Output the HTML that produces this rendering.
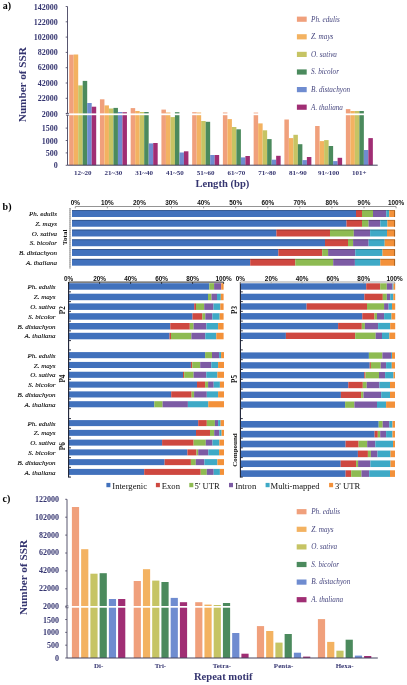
<!DOCTYPE html><html><head><meta charset="utf-8"><style>html,body{margin:0;padding:0;background:#fff;}svg{display:block;filter:blur(0.3px);}</style></head><body>
<svg width="407" height="685" viewBox="0 0 407 685">
<rect width="407" height="685" fill="#fff"/>
<text x="2.80" y="9.30" font-family="'Liberation Serif', serif" font-size="10" fill="#000" text-anchor="start" font-weight="bold" font-style="normal">a)</text>
<text x="2.60" y="210.20" font-family="'Liberation Serif', serif" font-size="10" fill="#000" text-anchor="start" font-weight="bold" font-style="normal">b)</text>
<text x="2.60" y="502.30" font-family="'Liberation Serif', serif" font-size="10" fill="#000" text-anchor="start" font-weight="bold" font-style="normal">c)</text>
<rect x="69.20" y="54.70" width="4.50" height="110.50" fill="#F0A07C"/>
<rect x="73.70" y="54.50" width="4.50" height="110.70" fill="#F3B261"/>
<rect x="78.20" y="85.40" width="4.50" height="79.80" fill="#C6C464"/>
<rect x="82.70" y="80.90" width="4.50" height="84.30" fill="#4B8A5D"/>
<rect x="87.20" y="103.00" width="4.50" height="62.20" fill="#6F8CD0"/>
<rect x="91.70" y="106.70" width="4.50" height="58.50" fill="#A02E74"/>
<rect x="99.94" y="99.30" width="4.50" height="65.90" fill="#F0A07C"/>
<rect x="104.44" y="105.40" width="4.50" height="59.80" fill="#F3B261"/>
<rect x="108.94" y="108.50" width="4.50" height="56.70" fill="#C6C464"/>
<rect x="113.44" y="107.90" width="4.50" height="57.30" fill="#4B8A5D"/>
<rect x="117.94" y="112.00" width="4.50" height="53.20" fill="#6F8CD0"/>
<rect x="122.44" y="112.20" width="4.50" height="53.00" fill="#A02E74"/>
<rect x="130.68" y="108.10" width="4.50" height="57.10" fill="#F0A07C"/>
<rect x="135.18" y="111.00" width="4.50" height="54.20" fill="#F3B261"/>
<rect x="139.68" y="112.00" width="4.50" height="53.20" fill="#C6C464"/>
<rect x="144.18" y="112.00" width="4.50" height="53.20" fill="#4B8A5D"/>
<rect x="148.68" y="143.40" width="4.50" height="21.80" fill="#6F8CD0"/>
<rect x="153.18" y="143.00" width="4.50" height="22.20" fill="#A02E74"/>
<rect x="161.42" y="109.60" width="4.50" height="55.60" fill="#F0A07C"/>
<rect x="165.92" y="112.50" width="4.50" height="52.70" fill="#F3B261"/>
<rect x="170.42" y="117.10" width="4.50" height="48.10" fill="#C6C464"/>
<rect x="174.92" y="112.20" width="4.50" height="53.00" fill="#4B8A5D"/>
<rect x="179.42" y="152.50" width="4.50" height="12.70" fill="#6F8CD0"/>
<rect x="183.92" y="151.30" width="4.50" height="13.90" fill="#A02E74"/>
<rect x="192.16" y="112.20" width="4.50" height="53.00" fill="#F0A07C"/>
<rect x="196.66" y="112.50" width="4.50" height="52.70" fill="#F3B261"/>
<rect x="201.16" y="121.00" width="4.50" height="44.20" fill="#C6C464"/>
<rect x="205.66" y="121.80" width="4.50" height="43.40" fill="#4B8A5D"/>
<rect x="210.16" y="155.00" width="4.50" height="10.20" fill="#6F8CD0"/>
<rect x="214.66" y="155.00" width="4.50" height="10.20" fill="#A02E74"/>
<rect x="222.90" y="112.50" width="4.50" height="52.70" fill="#F0A07C"/>
<rect x="227.40" y="119.10" width="4.50" height="46.10" fill="#F3B261"/>
<rect x="231.90" y="127.00" width="4.50" height="38.20" fill="#C6C464"/>
<rect x="236.40" y="129.30" width="4.50" height="35.90" fill="#4B8A5D"/>
<rect x="240.90" y="157.40" width="4.50" height="7.80" fill="#6F8CD0"/>
<rect x="245.40" y="156.00" width="4.50" height="9.20" fill="#A02E74"/>
<rect x="253.64" y="112.60" width="4.50" height="52.60" fill="#F0A07C"/>
<rect x="258.14" y="123.40" width="4.50" height="41.80" fill="#F3B261"/>
<rect x="262.64" y="130.30" width="4.50" height="34.90" fill="#C6C464"/>
<rect x="267.14" y="139.10" width="4.50" height="26.10" fill="#4B8A5D"/>
<rect x="271.64" y="159.70" width="4.50" height="5.50" fill="#6F8CD0"/>
<rect x="276.14" y="155.80" width="4.50" height="9.40" fill="#A02E74"/>
<rect x="284.38" y="119.50" width="4.50" height="45.70" fill="#F0A07C"/>
<rect x="288.88" y="138.10" width="4.50" height="27.10" fill="#F3B261"/>
<rect x="293.38" y="134.80" width="4.50" height="30.40" fill="#C6C464"/>
<rect x="297.88" y="144.20" width="4.50" height="21.00" fill="#4B8A5D"/>
<rect x="302.38" y="160.10" width="4.50" height="5.10" fill="#6F8CD0"/>
<rect x="306.88" y="157.00" width="4.50" height="8.20" fill="#A02E74"/>
<rect x="315.12" y="126.00" width="4.50" height="39.20" fill="#F0A07C"/>
<rect x="319.62" y="141.10" width="4.50" height="24.10" fill="#F3B261"/>
<rect x="324.12" y="140.10" width="4.50" height="25.10" fill="#C6C464"/>
<rect x="328.62" y="146.00" width="4.50" height="19.20" fill="#4B8A5D"/>
<rect x="333.12" y="161.10" width="4.50" height="4.10" fill="#6F8CD0"/>
<rect x="337.62" y="157.80" width="4.50" height="7.40" fill="#A02E74"/>
<rect x="345.86" y="109.10" width="4.50" height="56.10" fill="#F0A07C"/>
<rect x="350.36" y="111.00" width="4.50" height="54.20" fill="#F3B261"/>
<rect x="354.86" y="111.00" width="4.50" height="54.20" fill="#C6C464"/>
<rect x="359.36" y="111.00" width="4.50" height="54.20" fill="#4B8A5D"/>
<rect x="363.86" y="150.00" width="4.50" height="15.20" fill="#6F8CD0"/>
<rect x="368.36" y="138.10" width="4.50" height="27.10" fill="#A02E74"/>
<rect x="68.00" y="113.40" width="310.20" height="1.80" fill="#fff"/>
<line x1="67.50" y1="6.50" x2="67.50" y2="113.40" stroke="#45435f" stroke-width="0.9"/>
<line x1="67.50" y1="115.20" x2="67.50" y2="165.20" stroke="#45435f" stroke-width="0.9"/>
<line x1="66.00" y1="113.40" x2="69.00" y2="113.40" stroke="#45435f" stroke-width="0.8"/>
<line x1="66.00" y1="115.20" x2="69.00" y2="115.20" stroke="#45435f" stroke-width="0.8"/>
<line x1="67.50" y1="165.20" x2="377.70" y2="165.20" stroke="#45435f" stroke-width="1"/>
<line x1="65.70" y1="6.50" x2="67.50" y2="6.50" stroke="#45435f" stroke-width="0.8"/>
<line x1="65.70" y1="21.80" x2="67.50" y2="21.80" stroke="#45435f" stroke-width="0.8"/>
<line x1="65.70" y1="37.10" x2="67.50" y2="37.10" stroke="#45435f" stroke-width="0.8"/>
<line x1="65.70" y1="52.40" x2="67.50" y2="52.40" stroke="#45435f" stroke-width="0.8"/>
<line x1="65.70" y1="67.70" x2="67.50" y2="67.70" stroke="#45435f" stroke-width="0.8"/>
<line x1="65.70" y1="83.00" x2="67.50" y2="83.00" stroke="#45435f" stroke-width="0.8"/>
<line x1="65.70" y1="98.30" x2="67.50" y2="98.30" stroke="#45435f" stroke-width="0.8"/>
<line x1="65.70" y1="113.60" x2="67.50" y2="113.60" stroke="#45435f" stroke-width="0.8"/>
<line x1="65.70" y1="165.30" x2="67.50" y2="165.30" stroke="#45435f" stroke-width="0.8"/>
<line x1="65.70" y1="152.90" x2="67.50" y2="152.90" stroke="#45435f" stroke-width="0.8"/>
<line x1="65.70" y1="140.50" x2="67.50" y2="140.50" stroke="#45435f" stroke-width="0.8"/>
<line x1="65.70" y1="128.10" x2="67.50" y2="128.10" stroke="#45435f" stroke-width="0.8"/>
<text x="57.80" y="10.14" font-family="'Liberation Serif', serif" font-size="8.0" fill="#353570" text-anchor="end" font-weight="bold" font-style="normal">142000</text>
<text x="57.80" y="24.64" font-family="'Liberation Serif', serif" font-size="8.0" fill="#353570" text-anchor="end" font-weight="bold" font-style="normal">122000</text>
<text x="57.80" y="39.94" font-family="'Liberation Serif', serif" font-size="8.0" fill="#353570" text-anchor="end" font-weight="bold" font-style="normal">102000</text>
<text x="57.80" y="55.14" font-family="'Liberation Serif', serif" font-size="8.0" fill="#353570" text-anchor="end" font-weight="bold" font-style="normal">82000</text>
<text x="57.80" y="70.34" font-family="'Liberation Serif', serif" font-size="8.0" fill="#353570" text-anchor="end" font-weight="bold" font-style="normal">62000</text>
<text x="57.80" y="85.64" font-family="'Liberation Serif', serif" font-size="8.0" fill="#353570" text-anchor="end" font-weight="bold" font-style="normal">42000</text>
<text x="57.80" y="100.84" font-family="'Liberation Serif', serif" font-size="8.0" fill="#353570" text-anchor="end" font-weight="bold" font-style="normal">22000</text>
<text x="57.80" y="116.64" font-family="'Liberation Serif', serif" font-size="8.0" fill="#353570" text-anchor="end" font-weight="bold" font-style="normal">2000</text>
<text x="57.80" y="131.04" font-family="'Liberation Serif', serif" font-size="8.0" fill="#353570" text-anchor="end" font-weight="bold" font-style="normal">1500</text>
<text x="57.80" y="143.64" font-family="'Liberation Serif', serif" font-size="8.0" fill="#353570" text-anchor="end" font-weight="bold" font-style="normal">1000</text>
<text x="57.80" y="156.34" font-family="'Liberation Serif', serif" font-size="8.0" fill="#353570" text-anchor="end" font-weight="bold" font-style="normal">500</text>
<text x="57.80" y="168.44" font-family="'Liberation Serif', serif" font-size="8.0" fill="#353570" text-anchor="end" font-weight="bold" font-style="normal">0</text>
<text x="82.70" y="174.60" font-family="'Liberation Serif', serif" font-size="7.0" fill="#353570" text-anchor="middle" font-weight="bold" font-style="normal">12~20</text>
<text x="113.44" y="174.60" font-family="'Liberation Serif', serif" font-size="7.0" fill="#353570" text-anchor="middle" font-weight="bold" font-style="normal">21~30</text>
<text x="144.18" y="174.60" font-family="'Liberation Serif', serif" font-size="7.0" fill="#353570" text-anchor="middle" font-weight="bold" font-style="normal">31~40</text>
<text x="174.92" y="174.60" font-family="'Liberation Serif', serif" font-size="7.0" fill="#353570" text-anchor="middle" font-weight="bold" font-style="normal">41~50</text>
<text x="205.66" y="174.60" font-family="'Liberation Serif', serif" font-size="7.0" fill="#353570" text-anchor="middle" font-weight="bold" font-style="normal">51~60</text>
<text x="236.40" y="174.60" font-family="'Liberation Serif', serif" font-size="7.0" fill="#353570" text-anchor="middle" font-weight="bold" font-style="normal">61~70</text>
<text x="267.14" y="174.60" font-family="'Liberation Serif', serif" font-size="7.0" fill="#353570" text-anchor="middle" font-weight="bold" font-style="normal">71~80</text>
<text x="297.88" y="174.60" font-family="'Liberation Serif', serif" font-size="7.0" fill="#353570" text-anchor="middle" font-weight="bold" font-style="normal">81~90</text>
<text x="328.62" y="174.60" font-family="'Liberation Serif', serif" font-size="7.0" fill="#353570" text-anchor="middle" font-weight="bold" font-style="normal">91~100</text>
<text x="359.36" y="174.60" font-family="'Liberation Serif', serif" font-size="7.0" fill="#353570" text-anchor="middle" font-weight="bold" font-style="normal">101+</text>
<text x="222.40" y="187.00" font-family="'Liberation Serif', serif" font-size="10.6" fill="#353570" text-anchor="middle" font-weight="bold" font-style="normal">Length (bp)</text>
<text x="26.00" y="84.70" font-family="'Liberation Serif', serif" font-size="11.2" fill="#353570" text-anchor="middle" font-weight="bold" font-style="normal" transform="rotate(-90 26.00 84.70)">Number of SSR</text>
<rect x="296.90" y="16.60" width="9.80" height="5.20" fill="#F0A07C"/>
<text x="311.00" y="21.58" font-family="'Liberation Serif', serif" font-size="7.2" fill="#46467f" text-anchor="start" font-weight="normal" font-style="italic">Ph. edulis</text>
<rect x="296.90" y="34.20" width="9.80" height="5.20" fill="#F3B261"/>
<text x="311.00" y="39.18" font-family="'Liberation Serif', serif" font-size="7.2" fill="#46467f" text-anchor="start" font-weight="normal" font-style="italic">Z. mays</text>
<rect x="296.90" y="51.80" width="9.80" height="5.20" fill="#C6C464"/>
<text x="311.00" y="56.78" font-family="'Liberation Serif', serif" font-size="7.2" fill="#46467f" text-anchor="start" font-weight="normal" font-style="italic">O. sativa</text>
<rect x="296.90" y="69.40" width="9.80" height="5.20" fill="#4B8A5D"/>
<text x="311.00" y="74.38" font-family="'Liberation Serif', serif" font-size="7.2" fill="#46467f" text-anchor="start" font-weight="normal" font-style="italic">S. bicolor</text>
<rect x="296.90" y="87.00" width="9.80" height="5.20" fill="#6F8CD0"/>
<text x="311.00" y="91.98" font-family="'Liberation Serif', serif" font-size="7.2" fill="#46467f" text-anchor="start" font-weight="normal" font-style="italic">B. distachyon</text>
<rect x="296.90" y="104.60" width="9.80" height="5.20" fill="#A02E74"/>
<text x="311.00" y="109.58" font-family="'Liberation Serif', serif" font-size="7.2" fill="#46467f" text-anchor="start" font-weight="normal" font-style="italic">A. thaliana</text>
<rect x="71.90" y="507.00" width="7.20" height="151.00" fill="#F0A07C"/>
<rect x="81.14" y="549.20" width="7.20" height="108.80" fill="#F3B261"/>
<rect x="90.38" y="573.70" width="7.20" height="84.30" fill="#C6C464"/>
<rect x="99.62" y="573.20" width="7.20" height="84.80" fill="#4B8A5D"/>
<rect x="108.86" y="599.00" width="7.20" height="59.00" fill="#6F8CD0"/>
<rect x="118.10" y="599.00" width="7.20" height="59.00" fill="#A02E74"/>
<rect x="133.70" y="581.00" width="7.20" height="77.00" fill="#F0A07C"/>
<rect x="142.94" y="569.20" width="7.20" height="88.80" fill="#F3B261"/>
<rect x="152.18" y="580.60" width="7.20" height="77.40" fill="#C6C464"/>
<rect x="161.42" y="582.00" width="7.20" height="76.00" fill="#4B8A5D"/>
<rect x="170.66" y="597.90" width="7.20" height="60.10" fill="#6F8CD0"/>
<rect x="179.90" y="602.20" width="7.20" height="55.80" fill="#A02E74"/>
<rect x="195.20" y="602.20" width="7.20" height="55.80" fill="#F0A07C"/>
<rect x="204.44" y="604.60" width="7.20" height="53.40" fill="#F3B261"/>
<rect x="213.68" y="605.00" width="7.20" height="53.00" fill="#C6C464"/>
<rect x="222.92" y="603.00" width="7.20" height="55.00" fill="#4B8A5D"/>
<rect x="232.16" y="633.00" width="7.20" height="25.00" fill="#6F8CD0"/>
<rect x="241.40" y="653.70" width="7.20" height="4.30" fill="#A02E74"/>
<rect x="256.90" y="626.10" width="7.20" height="31.90" fill="#F0A07C"/>
<rect x="266.14" y="631.00" width="7.20" height="27.00" fill="#F3B261"/>
<rect x="275.38" y="642.60" width="7.20" height="15.40" fill="#C6C464"/>
<rect x="284.62" y="634.00" width="7.20" height="24.00" fill="#4B8A5D"/>
<rect x="293.86" y="652.70" width="7.20" height="5.30" fill="#6F8CD0"/>
<rect x="303.10" y="656.60" width="7.20" height="1.40" fill="#A02E74"/>
<rect x="317.90" y="619.10" width="7.20" height="38.90" fill="#F0A07C"/>
<rect x="327.14" y="641.90" width="7.20" height="16.10" fill="#F3B261"/>
<rect x="336.38" y="650.70" width="7.20" height="7.30" fill="#C6C464"/>
<rect x="345.62" y="639.70" width="7.20" height="18.30" fill="#4B8A5D"/>
<rect x="354.86" y="655.60" width="7.20" height="2.40" fill="#6F8CD0"/>
<rect x="364.10" y="656.00" width="7.20" height="2.00" fill="#A02E74"/>
<rect x="67.50" y="606.00" width="310.80" height="1.70" fill="#fff"/>
<line x1="67.00" y1="499.30" x2="67.00" y2="606.00" stroke="#45435f" stroke-width="0.9"/>
<line x1="67.00" y1="607.70" x2="67.00" y2="658.00" stroke="#45435f" stroke-width="0.9"/>
<line x1="65.50" y1="606.00" x2="68.50" y2="606.00" stroke="#45435f" stroke-width="0.8"/>
<line x1="65.50" y1="607.70" x2="68.50" y2="607.70" stroke="#45435f" stroke-width="0.8"/>
<line x1="67.00" y1="658.00" x2="377.80" y2="658.00" stroke="#45435f" stroke-width="1"/>
<line x1="65.20" y1="499.30" x2="67.00" y2="499.30" stroke="#45435f" stroke-width="0.8"/>
<line x1="65.20" y1="517.20" x2="67.00" y2="517.20" stroke="#45435f" stroke-width="0.8"/>
<line x1="65.20" y1="535.10" x2="67.00" y2="535.10" stroke="#45435f" stroke-width="0.8"/>
<line x1="65.20" y1="553.00" x2="67.00" y2="553.00" stroke="#45435f" stroke-width="0.8"/>
<line x1="65.20" y1="570.90" x2="67.00" y2="570.90" stroke="#45435f" stroke-width="0.8"/>
<line x1="65.20" y1="588.80" x2="67.00" y2="588.80" stroke="#45435f" stroke-width="0.8"/>
<line x1="65.20" y1="606.70" x2="67.00" y2="606.70" stroke="#45435f" stroke-width="0.8"/>
<line x1="65.20" y1="619.53" x2="67.00" y2="619.53" stroke="#45435f" stroke-width="0.8"/>
<line x1="65.20" y1="632.35" x2="67.00" y2="632.35" stroke="#45435f" stroke-width="0.8"/>
<line x1="65.20" y1="645.18" x2="67.00" y2="645.18" stroke="#45435f" stroke-width="0.8"/>
<line x1="65.20" y1="658.00" x2="67.00" y2="658.00" stroke="#45435f" stroke-width="0.8"/>
<text x="59.00" y="502.44" font-family="'Liberation Serif', serif" font-size="8.0" fill="#353570" text-anchor="end" font-weight="bold" font-style="normal">122000</text>
<text x="59.00" y="520.14" font-family="'Liberation Serif', serif" font-size="8.0" fill="#353570" text-anchor="end" font-weight="bold" font-style="normal">102000</text>
<text x="59.00" y="538.14" font-family="'Liberation Serif', serif" font-size="8.0" fill="#353570" text-anchor="end" font-weight="bold" font-style="normal">82000</text>
<text x="59.00" y="555.34" font-family="'Liberation Serif', serif" font-size="8.0" fill="#353570" text-anchor="end" font-weight="bold" font-style="normal">62000</text>
<text x="59.00" y="573.24" font-family="'Liberation Serif', serif" font-size="8.0" fill="#353570" text-anchor="end" font-weight="bold" font-style="normal">42000</text>
<text x="59.00" y="591.24" font-family="'Liberation Serif', serif" font-size="8.0" fill="#353570" text-anchor="end" font-weight="bold" font-style="normal">22000</text>
<text x="59.00" y="608.94" font-family="'Liberation Serif', serif" font-size="8.0" fill="#353570" text-anchor="end" font-weight="bold" font-style="normal">2000</text>
<text x="59.00" y="623.14" font-family="'Liberation Serif', serif" font-size="8.0" fill="#353570" text-anchor="end" font-weight="bold" font-style="normal">1500</text>
<text x="59.00" y="635.44" font-family="'Liberation Serif', serif" font-size="8.0" fill="#353570" text-anchor="end" font-weight="bold" font-style="normal">1000</text>
<text x="59.00" y="648.44" font-family="'Liberation Serif', serif" font-size="8.0" fill="#353570" text-anchor="end" font-weight="bold" font-style="normal">500</text>
<text x="59.00" y="661.24" font-family="'Liberation Serif', serif" font-size="8.0" fill="#353570" text-anchor="end" font-weight="bold" font-style="normal">0</text>
<text x="98.60" y="668.00" font-family="'Liberation Serif', serif" font-size="7.0" fill="#353570" text-anchor="middle" font-weight="bold" font-style="normal">Di-</text>
<text x="160.40" y="668.00" font-family="'Liberation Serif', serif" font-size="7.0" fill="#353570" text-anchor="middle" font-weight="bold" font-style="normal">Tri-</text>
<text x="221.90" y="668.00" font-family="'Liberation Serif', serif" font-size="7.0" fill="#353570" text-anchor="middle" font-weight="bold" font-style="normal">Tetra-</text>
<text x="283.60" y="668.00" font-family="'Liberation Serif', serif" font-size="7.0" fill="#353570" text-anchor="middle" font-weight="bold" font-style="normal">Penta-</text>
<text x="344.60" y="668.00" font-family="'Liberation Serif', serif" font-size="7.0" fill="#353570" text-anchor="middle" font-weight="bold" font-style="normal">Hexa-</text>
<text x="223.20" y="679.70" font-family="'Liberation Serif', serif" font-size="10.6" fill="#353570" text-anchor="middle" font-weight="bold" font-style="normal">Repeat motif</text>
<text x="27.40" y="577.50" font-family="'Liberation Serif', serif" font-size="11.2" fill="#353570" text-anchor="middle" font-weight="bold" font-style="normal" transform="rotate(-90 27.40 577.50)">Number of SSR</text>
<rect x="296.70" y="509.10" width="9.80" height="5.20" fill="#F0A07C"/>
<text x="311.20" y="514.08" font-family="'Liberation Serif', serif" font-size="7.2" fill="#46467f" text-anchor="start" font-weight="normal" font-style="italic">Ph. edulis</text>
<rect x="296.70" y="526.70" width="9.80" height="5.20" fill="#F3B261"/>
<text x="311.20" y="531.68" font-family="'Liberation Serif', serif" font-size="7.2" fill="#46467f" text-anchor="start" font-weight="normal" font-style="italic">Z. mays</text>
<rect x="296.70" y="544.30" width="9.80" height="5.20" fill="#C6C464"/>
<text x="311.20" y="549.28" font-family="'Liberation Serif', serif" font-size="7.2" fill="#46467f" text-anchor="start" font-weight="normal" font-style="italic">O. sativa</text>
<rect x="296.70" y="561.90" width="9.80" height="5.20" fill="#4B8A5D"/>
<text x="311.20" y="566.88" font-family="'Liberation Serif', serif" font-size="7.2" fill="#46467f" text-anchor="start" font-weight="normal" font-style="italic">S. bicolor</text>
<rect x="296.70" y="579.50" width="9.80" height="5.20" fill="#6F8CD0"/>
<text x="311.20" y="584.48" font-family="'Liberation Serif', serif" font-size="7.2" fill="#46467f" text-anchor="start" font-weight="normal" font-style="italic">B. distachyon</text>
<rect x="296.70" y="597.10" width="9.80" height="5.20" fill="#A02E74"/>
<text x="311.20" y="602.08" font-family="'Liberation Serif', serif" font-size="7.2" fill="#46467f" text-anchor="start" font-weight="normal" font-style="italic">A. thaliana</text>
<rect x="72.00" y="210.20" width="284.00" height="6.80" fill="#4171BC"/>
<rect x="72.00" y="210.20" width="284.00" height="0.80" fill="#2e5187"/>
<rect x="356.00" y="210.20" width="6.00" height="6.80" fill="#CE4840"/>
<rect x="356.00" y="210.20" width="6.00" height="0.80" fill="#94332e"/>
<rect x="362.00" y="210.20" width="11.00" height="6.80" fill="#8EBB52"/>
<rect x="362.00" y="210.20" width="11.00" height="0.80" fill="#66863b"/>
<rect x="373.00" y="210.20" width="13.30" height="6.80" fill="#7C5BA4"/>
<rect x="373.00" y="210.20" width="13.30" height="0.80" fill="#594176"/>
<rect x="386.30" y="210.20" width="2.90" height="6.80" fill="#3EA9C6"/>
<rect x="386.30" y="210.20" width="2.90" height="0.80" fill="#2c798e"/>
<rect x="389.20" y="210.20" width="5.80" height="6.80" fill="#F3913A"/>
<rect x="389.20" y="210.20" width="5.80" height="0.80" fill="#ae6829"/>
<rect x="394.10" y="210.60" width="1.00" height="6.40" fill="#A9611F"/>
<rect x="72.00" y="219.94" width="274.50" height="6.80" fill="#4171BC"/>
<rect x="72.00" y="219.94" width="274.50" height="0.80" fill="#2e5187"/>
<rect x="346.50" y="219.94" width="15.50" height="6.80" fill="#CE4840"/>
<rect x="346.50" y="219.94" width="15.50" height="0.80" fill="#94332e"/>
<rect x="362.00" y="219.94" width="6.60" height="6.80" fill="#8EBB52"/>
<rect x="362.00" y="219.94" width="6.60" height="0.80" fill="#66863b"/>
<rect x="368.60" y="219.94" width="11.70" height="6.80" fill="#7C5BA4"/>
<rect x="368.60" y="219.94" width="11.70" height="0.80" fill="#594176"/>
<rect x="380.30" y="219.94" width="7.10" height="6.80" fill="#3EA9C6"/>
<rect x="380.30" y="219.94" width="7.10" height="0.80" fill="#2c798e"/>
<rect x="387.40" y="219.94" width="7.60" height="6.80" fill="#F3913A"/>
<rect x="387.40" y="219.94" width="7.60" height="0.80" fill="#ae6829"/>
<rect x="394.10" y="220.34" width="1.00" height="6.40" fill="#A9611F"/>
<rect x="72.00" y="229.68" width="204.40" height="6.80" fill="#4171BC"/>
<rect x="72.00" y="229.68" width="204.40" height="0.80" fill="#2e5187"/>
<rect x="276.40" y="229.68" width="53.60" height="6.80" fill="#CE4840"/>
<rect x="276.40" y="229.68" width="53.60" height="0.80" fill="#94332e"/>
<rect x="330.00" y="229.68" width="23.80" height="6.80" fill="#8EBB52"/>
<rect x="330.00" y="229.68" width="23.80" height="0.80" fill="#66863b"/>
<rect x="353.80" y="229.68" width="16.30" height="6.80" fill="#7C5BA4"/>
<rect x="353.80" y="229.68" width="16.30" height="0.80" fill="#594176"/>
<rect x="370.10" y="229.68" width="16.90" height="6.80" fill="#3EA9C6"/>
<rect x="370.10" y="229.68" width="16.90" height="0.80" fill="#2c798e"/>
<rect x="387.00" y="229.68" width="8.00" height="6.80" fill="#F3913A"/>
<rect x="387.00" y="229.68" width="8.00" height="0.80" fill="#ae6829"/>
<rect x="394.10" y="230.08" width="1.00" height="6.40" fill="#A9611F"/>
<rect x="72.00" y="239.42" width="253.00" height="6.80" fill="#4171BC"/>
<rect x="72.00" y="239.42" width="253.00" height="0.80" fill="#2e5187"/>
<rect x="325.00" y="239.42" width="23.00" height="6.80" fill="#CE4840"/>
<rect x="325.00" y="239.42" width="23.00" height="0.80" fill="#94332e"/>
<rect x="348.00" y="239.42" width="5.10" height="6.80" fill="#8EBB52"/>
<rect x="348.00" y="239.42" width="5.10" height="0.80" fill="#66863b"/>
<rect x="353.10" y="239.42" width="15.50" height="6.80" fill="#7C5BA4"/>
<rect x="353.10" y="239.42" width="15.50" height="0.80" fill="#594176"/>
<rect x="368.60" y="239.42" width="16.10" height="6.80" fill="#3EA9C6"/>
<rect x="368.60" y="239.42" width="16.10" height="0.80" fill="#2c798e"/>
<rect x="384.70" y="239.42" width="10.30" height="6.80" fill="#F3913A"/>
<rect x="384.70" y="239.42" width="10.30" height="0.80" fill="#ae6829"/>
<rect x="394.10" y="239.82" width="1.00" height="6.40" fill="#A9611F"/>
<rect x="72.00" y="249.16" width="206.40" height="6.80" fill="#4171BC"/>
<rect x="72.00" y="249.16" width="206.40" height="0.80" fill="#2e5187"/>
<rect x="278.40" y="249.16" width="43.80" height="6.80" fill="#CE4840"/>
<rect x="278.40" y="249.16" width="43.80" height="0.80" fill="#94332e"/>
<rect x="322.20" y="249.16" width="5.90" height="6.80" fill="#8EBB52"/>
<rect x="322.20" y="249.16" width="5.90" height="0.80" fill="#66863b"/>
<rect x="328.10" y="249.16" width="27.20" height="6.80" fill="#7C5BA4"/>
<rect x="328.10" y="249.16" width="27.20" height="0.80" fill="#594176"/>
<rect x="355.30" y="249.16" width="27.20" height="6.80" fill="#3EA9C6"/>
<rect x="355.30" y="249.16" width="27.20" height="0.80" fill="#2c798e"/>
<rect x="382.50" y="249.16" width="12.50" height="6.80" fill="#F3913A"/>
<rect x="382.50" y="249.16" width="12.50" height="0.80" fill="#ae6829"/>
<rect x="394.10" y="249.56" width="1.00" height="6.40" fill="#A9611F"/>
<rect x="72.00" y="258.90" width="178.20" height="6.80" fill="#4171BC"/>
<rect x="72.00" y="258.90" width="178.20" height="0.80" fill="#2e5187"/>
<rect x="250.20" y="258.90" width="45.10" height="6.80" fill="#CE4840"/>
<rect x="250.20" y="258.90" width="45.10" height="0.80" fill="#94332e"/>
<rect x="295.30" y="258.90" width="37.90" height="6.80" fill="#8EBB52"/>
<rect x="295.30" y="258.90" width="37.90" height="0.80" fill="#66863b"/>
<rect x="333.20" y="258.90" width="21.70" height="6.80" fill="#7C5BA4"/>
<rect x="333.20" y="258.90" width="21.70" height="0.80" fill="#594176"/>
<rect x="354.90" y="258.90" width="25.40" height="6.80" fill="#3EA9C6"/>
<rect x="354.90" y="258.90" width="25.40" height="0.80" fill="#2c798e"/>
<rect x="380.30" y="258.90" width="14.70" height="6.80" fill="#F3913A"/>
<rect x="380.30" y="258.90" width="14.70" height="0.80" fill="#ae6829"/>
<rect x="394.10" y="259.30" width="1.00" height="6.40" fill="#A9611F"/>
<line x1="70.00" y1="208.00" x2="70.00" y2="268.20" stroke="#7a7a7a" stroke-width="0.9"/>
<line x1="69.20" y1="208.50" x2="70.80" y2="208.50" stroke="#9a9a9a" stroke-width="0.4"/>
<line x1="69.20" y1="210.50" x2="70.80" y2="210.50" stroke="#9a9a9a" stroke-width="0.4"/>
<line x1="69.20" y1="212.50" x2="70.80" y2="212.50" stroke="#9a9a9a" stroke-width="0.4"/>
<line x1="69.20" y1="214.50" x2="70.80" y2="214.50" stroke="#9a9a9a" stroke-width="0.4"/>
<line x1="69.20" y1="216.50" x2="70.80" y2="216.50" stroke="#9a9a9a" stroke-width="0.4"/>
<line x1="69.20" y1="218.50" x2="70.80" y2="218.50" stroke="#9a9a9a" stroke-width="0.4"/>
<line x1="69.20" y1="220.50" x2="70.80" y2="220.50" stroke="#9a9a9a" stroke-width="0.4"/>
<line x1="69.20" y1="222.50" x2="70.80" y2="222.50" stroke="#9a9a9a" stroke-width="0.4"/>
<line x1="69.20" y1="224.50" x2="70.80" y2="224.50" stroke="#9a9a9a" stroke-width="0.4"/>
<line x1="69.20" y1="226.50" x2="70.80" y2="226.50" stroke="#9a9a9a" stroke-width="0.4"/>
<line x1="69.20" y1="228.50" x2="70.80" y2="228.50" stroke="#9a9a9a" stroke-width="0.4"/>
<line x1="69.20" y1="230.50" x2="70.80" y2="230.50" stroke="#9a9a9a" stroke-width="0.4"/>
<line x1="69.20" y1="232.50" x2="70.80" y2="232.50" stroke="#9a9a9a" stroke-width="0.4"/>
<line x1="69.20" y1="234.50" x2="70.80" y2="234.50" stroke="#9a9a9a" stroke-width="0.4"/>
<line x1="69.20" y1="236.50" x2="70.80" y2="236.50" stroke="#9a9a9a" stroke-width="0.4"/>
<line x1="69.20" y1="238.50" x2="70.80" y2="238.50" stroke="#9a9a9a" stroke-width="0.4"/>
<line x1="69.20" y1="240.50" x2="70.80" y2="240.50" stroke="#9a9a9a" stroke-width="0.4"/>
<line x1="69.20" y1="242.50" x2="70.80" y2="242.50" stroke="#9a9a9a" stroke-width="0.4"/>
<line x1="69.20" y1="244.50" x2="70.80" y2="244.50" stroke="#9a9a9a" stroke-width="0.4"/>
<line x1="69.20" y1="246.50" x2="70.80" y2="246.50" stroke="#9a9a9a" stroke-width="0.4"/>
<line x1="69.20" y1="248.50" x2="70.80" y2="248.50" stroke="#9a9a9a" stroke-width="0.4"/>
<line x1="69.20" y1="250.50" x2="70.80" y2="250.50" stroke="#9a9a9a" stroke-width="0.4"/>
<line x1="69.20" y1="252.50" x2="70.80" y2="252.50" stroke="#9a9a9a" stroke-width="0.4"/>
<line x1="69.20" y1="254.50" x2="70.80" y2="254.50" stroke="#9a9a9a" stroke-width="0.4"/>
<line x1="69.20" y1="256.50" x2="70.80" y2="256.50" stroke="#9a9a9a" stroke-width="0.4"/>
<line x1="69.20" y1="258.50" x2="70.80" y2="258.50" stroke="#9a9a9a" stroke-width="0.4"/>
<line x1="69.20" y1="260.50" x2="70.80" y2="260.50" stroke="#9a9a9a" stroke-width="0.4"/>
<line x1="69.20" y1="262.50" x2="70.80" y2="262.50" stroke="#9a9a9a" stroke-width="0.4"/>
<line x1="69.20" y1="264.50" x2="70.80" y2="264.50" stroke="#9a9a9a" stroke-width="0.4"/>
<line x1="69.20" y1="266.50" x2="70.80" y2="266.50" stroke="#9a9a9a" stroke-width="0.4"/>
<line x1="69.20" y1="268.50" x2="70.80" y2="268.50" stroke="#9a9a9a" stroke-width="0.4"/>
<line x1="75.30" y1="206.50" x2="396.10" y2="206.50" stroke="#888" stroke-width="0.9"/>
<line x1="75.30" y1="206.50" x2="75.30" y2="208.30" stroke="#888" stroke-width="0.8"/>
<line x1="107.38" y1="206.50" x2="107.38" y2="208.30" stroke="#888" stroke-width="0.8"/>
<line x1="139.46" y1="206.50" x2="139.46" y2="208.30" stroke="#888" stroke-width="0.8"/>
<line x1="171.54" y1="206.50" x2="171.54" y2="208.30" stroke="#888" stroke-width="0.8"/>
<line x1="203.62" y1="206.50" x2="203.62" y2="208.30" stroke="#888" stroke-width="0.8"/>
<line x1="235.70" y1="206.50" x2="235.70" y2="208.30" stroke="#888" stroke-width="0.8"/>
<line x1="267.78" y1="206.50" x2="267.78" y2="208.30" stroke="#888" stroke-width="0.8"/>
<line x1="299.86" y1="206.50" x2="299.86" y2="208.30" stroke="#888" stroke-width="0.8"/>
<line x1="331.94" y1="206.50" x2="331.94" y2="208.30" stroke="#888" stroke-width="0.8"/>
<line x1="364.02" y1="206.50" x2="364.02" y2="208.30" stroke="#888" stroke-width="0.8"/>
<line x1="396.10" y1="206.50" x2="396.10" y2="208.30" stroke="#888" stroke-width="0.8"/>
<text x="75.30" y="205.20" font-family="'Liberation Sans', sans-serif" font-size="6.4" fill="#111" text-anchor="middle" font-weight="bold" font-style="normal">0%</text>
<text x="107.38" y="205.20" font-family="'Liberation Sans', sans-serif" font-size="6.4" fill="#111" text-anchor="middle" font-weight="bold" font-style="normal">10%</text>
<text x="139.46" y="205.20" font-family="'Liberation Sans', sans-serif" font-size="6.4" fill="#111" text-anchor="middle" font-weight="bold" font-style="normal">20%</text>
<text x="171.54" y="205.20" font-family="'Liberation Sans', sans-serif" font-size="6.4" fill="#111" text-anchor="middle" font-weight="bold" font-style="normal">30%</text>
<text x="203.62" y="205.20" font-family="'Liberation Sans', sans-serif" font-size="6.4" fill="#111" text-anchor="middle" font-weight="bold" font-style="normal">40%</text>
<text x="235.70" y="205.20" font-family="'Liberation Sans', sans-serif" font-size="6.4" fill="#111" text-anchor="middle" font-weight="bold" font-style="normal">50%</text>
<text x="267.78" y="205.20" font-family="'Liberation Sans', sans-serif" font-size="6.4" fill="#111" text-anchor="middle" font-weight="bold" font-style="normal">60%</text>
<text x="299.86" y="205.20" font-family="'Liberation Sans', sans-serif" font-size="6.4" fill="#111" text-anchor="middle" font-weight="bold" font-style="normal">70%</text>
<text x="331.94" y="205.20" font-family="'Liberation Sans', sans-serif" font-size="6.4" fill="#111" text-anchor="middle" font-weight="bold" font-style="normal">80%</text>
<text x="364.02" y="205.20" font-family="'Liberation Sans', sans-serif" font-size="6.4" fill="#111" text-anchor="middle" font-weight="bold" font-style="normal">90%</text>
<text x="396.10" y="205.20" font-family="'Liberation Sans', sans-serif" font-size="6.4" fill="#111" text-anchor="middle" font-weight="bold" font-style="normal">100%</text>
<text x="57.00" y="216.11" font-family="'Liberation Serif', serif" font-size="7.0" fill="#000" text-anchor="end" font-weight="normal" font-style="italic" stroke="#000" stroke-width="0.1">Ph. edulis</text>
<text x="57.00" y="225.85" font-family="'Liberation Serif', serif" font-size="7.0" fill="#000" text-anchor="end" font-weight="normal" font-style="italic" stroke="#000" stroke-width="0.1">Z. mays</text>
<text x="57.00" y="235.59" font-family="'Liberation Serif', serif" font-size="7.0" fill="#000" text-anchor="end" font-weight="normal" font-style="italic" stroke="#000" stroke-width="0.1">O. sativa</text>
<text x="57.00" y="245.33" font-family="'Liberation Serif', serif" font-size="7.0" fill="#000" text-anchor="end" font-weight="normal" font-style="italic" stroke="#000" stroke-width="0.1">S. bicolor</text>
<text x="57.00" y="255.07" font-family="'Liberation Serif', serif" font-size="7.0" fill="#000" text-anchor="end" font-weight="normal" font-style="italic" stroke="#000" stroke-width="0.1">B. distachyon</text>
<text x="57.00" y="264.81" font-family="'Liberation Serif', serif" font-size="7.0" fill="#000" text-anchor="end" font-weight="normal" font-style="italic" stroke="#000" stroke-width="0.1">A. thaliana</text>
<text x="66.60" y="237.30" font-family="'Liberation Serif', serif" font-size="7.0" fill="#111" text-anchor="middle" font-weight="bold" font-style="normal" transform="rotate(-90 66.60 237.30)">Total</text>
<rect x="69.00" y="283.20" width="140.30" height="6.50" fill="#4171BC"/>
<rect x="209.30" y="283.20" width="4.80" height="6.50" fill="#8EBB52"/>
<rect x="214.10" y="283.20" width="7.10" height="6.50" fill="#7C5BA4"/>
<rect x="221.20" y="283.20" width="2.40" height="6.50" fill="#F3913A"/>
<rect x="69.00" y="293.70" width="139.00" height="6.50" fill="#4171BC"/>
<rect x="208.00" y="293.70" width="3.50" height="6.50" fill="#8EBB52"/>
<rect x="211.50" y="293.70" width="5.50" height="6.50" fill="#7C5BA4"/>
<rect x="217.00" y="293.70" width="3.80" height="6.50" fill="#3EA9C6"/>
<rect x="220.80" y="293.70" width="2.80" height="6.50" fill="#F3913A"/>
<rect x="69.00" y="303.40" width="125.20" height="6.50" fill="#4171BC"/>
<rect x="194.20" y="303.40" width="1.80" height="6.50" fill="#CE4840"/>
<rect x="196.00" y="303.40" width="8.20" height="6.50" fill="#8EBB52"/>
<rect x="204.20" y="303.40" width="9.30" height="6.50" fill="#7C5BA4"/>
<rect x="213.50" y="303.40" width="6.80" height="6.50" fill="#3EA9C6"/>
<rect x="220.30" y="303.40" width="3.30" height="6.50" fill="#F3913A"/>
<rect x="69.00" y="313.20" width="123.50" height="6.50" fill="#4171BC"/>
<rect x="192.50" y="313.20" width="9.90" height="6.50" fill="#CE4840"/>
<rect x="202.40" y="313.20" width="2.90" height="6.50" fill="#8EBB52"/>
<rect x="205.30" y="313.20" width="7.10" height="6.50" fill="#7C5BA4"/>
<rect x="212.40" y="313.20" width="7.30" height="6.50" fill="#3EA9C6"/>
<rect x="219.70" y="313.20" width="3.90" height="6.50" fill="#F3913A"/>
<rect x="69.00" y="323.00" width="101.30" height="6.50" fill="#4171BC"/>
<rect x="170.30" y="323.00" width="19.50" height="6.50" fill="#CE4840"/>
<rect x="189.80" y="323.00" width="3.80" height="6.50" fill="#8EBB52"/>
<rect x="193.60" y="323.00" width="12.80" height="6.50" fill="#7C5BA4"/>
<rect x="206.40" y="323.00" width="11.70" height="6.50" fill="#3EA9C6"/>
<rect x="218.10" y="323.00" width="5.50" height="6.50" fill="#F3913A"/>
<rect x="69.00" y="332.80" width="100.50" height="6.50" fill="#4171BC"/>
<rect x="169.50" y="332.80" width="1.50" height="6.50" fill="#CE4840"/>
<rect x="171.00" y="332.80" width="20.40" height="6.50" fill="#8EBB52"/>
<rect x="191.40" y="332.80" width="13.90" height="6.50" fill="#7C5BA4"/>
<rect x="205.30" y="332.80" width="11.00" height="6.50" fill="#3EA9C6"/>
<rect x="216.30" y="332.80" width="7.30" height="6.50" fill="#F3913A"/>
<rect x="69.00" y="352.10" width="136.10" height="6.10" fill="#4171BC"/>
<rect x="205.10" y="352.10" width="6.90" height="6.10" fill="#8EBB52"/>
<rect x="212.00" y="352.10" width="7.10" height="6.10" fill="#7C5BA4"/>
<rect x="219.10" y="352.10" width="2.00" height="6.10" fill="#3EA9C6"/>
<rect x="221.10" y="352.10" width="2.90" height="6.10" fill="#F3913A"/>
<rect x="69.00" y="361.92" width="121.90" height="6.10" fill="#4171BC"/>
<rect x="190.90" y="361.92" width="1.40" height="6.10" fill="#CE4840"/>
<rect x="192.30" y="361.92" width="7.90" height="6.10" fill="#8EBB52"/>
<rect x="200.20" y="361.92" width="11.10" height="6.10" fill="#7C5BA4"/>
<rect x="211.30" y="361.92" width="6.80" height="6.10" fill="#3EA9C6"/>
<rect x="218.10" y="361.92" width="5.90" height="6.10" fill="#F3913A"/>
<rect x="69.00" y="371.74" width="114.00" height="6.10" fill="#4171BC"/>
<rect x="183.00" y="371.74" width="1.20" height="6.10" fill="#CE4840"/>
<rect x="184.20" y="371.74" width="9.40" height="6.10" fill="#8EBB52"/>
<rect x="193.60" y="371.74" width="12.70" height="6.10" fill="#7C5BA4"/>
<rect x="206.30" y="371.74" width="11.10" height="6.10" fill="#3EA9C6"/>
<rect x="217.40" y="371.74" width="6.60" height="6.10" fill="#F3913A"/>
<rect x="69.00" y="381.56" width="128.00" height="6.10" fill="#4171BC"/>
<rect x="197.00" y="381.56" width="8.10" height="6.10" fill="#CE4840"/>
<rect x="205.10" y="381.56" width="3.00" height="6.10" fill="#8EBB52"/>
<rect x="208.10" y="381.56" width="5.60" height="6.10" fill="#7C5BA4"/>
<rect x="213.70" y="381.56" width="6.20" height="6.10" fill="#3EA9C6"/>
<rect x="219.90" y="381.56" width="4.10" height="6.10" fill="#F3913A"/>
<rect x="69.00" y="391.38" width="102.20" height="6.10" fill="#4171BC"/>
<rect x="171.20" y="391.38" width="20.40" height="6.10" fill="#CE4840"/>
<rect x="191.60" y="391.38" width="2.50" height="6.10" fill="#8EBB52"/>
<rect x="194.10" y="391.38" width="12.70" height="6.10" fill="#7C5BA4"/>
<rect x="206.80" y="391.38" width="11.30" height="6.10" fill="#3EA9C6"/>
<rect x="218.10" y="391.38" width="5.90" height="6.10" fill="#F3913A"/>
<rect x="69.00" y="401.20" width="85.30" height="6.10" fill="#4171BC"/>
<rect x="154.30" y="401.20" width="8.30" height="6.10" fill="#8EBB52"/>
<rect x="162.60" y="401.20" width="25.30" height="6.10" fill="#7C5BA4"/>
<rect x="187.90" y="401.20" width="20.40" height="6.10" fill="#3EA9C6"/>
<rect x="208.30" y="401.20" width="15.70" height="6.10" fill="#F3913A"/>
<rect x="69.00" y="420.10" width="129.20" height="6.00" fill="#4171BC"/>
<rect x="198.20" y="420.10" width="8.60" height="6.00" fill="#CE4840"/>
<rect x="206.80" y="420.10" width="8.10" height="6.00" fill="#8EBB52"/>
<rect x="214.90" y="420.10" width="3.20" height="6.00" fill="#7C5BA4"/>
<rect x="218.10" y="420.10" width="2.50" height="6.00" fill="#3EA9C6"/>
<rect x="220.60" y="420.10" width="3.40" height="6.00" fill="#F3913A"/>
<rect x="69.00" y="429.86" width="127.00" height="6.00" fill="#4171BC"/>
<rect x="196.00" y="429.86" width="14.00" height="6.00" fill="#CE4840"/>
<rect x="210.00" y="429.86" width="4.20" height="6.00" fill="#8EBB52"/>
<rect x="214.20" y="429.86" width="5.20" height="6.00" fill="#7C5BA4"/>
<rect x="219.40" y="429.86" width="2.20" height="6.00" fill="#3EA9C6"/>
<rect x="221.60" y="429.86" width="2.40" height="6.00" fill="#F3913A"/>
<rect x="69.00" y="439.62" width="93.10" height="6.00" fill="#4171BC"/>
<rect x="162.10" y="439.62" width="31.50" height="6.00" fill="#CE4840"/>
<rect x="193.60" y="439.62" width="12.20" height="6.00" fill="#8EBB52"/>
<rect x="205.80" y="439.62" width="6.70" height="6.00" fill="#7C5BA4"/>
<rect x="212.50" y="439.62" width="6.90" height="6.00" fill="#3EA9C6"/>
<rect x="219.40" y="439.62" width="4.60" height="6.00" fill="#F3913A"/>
<rect x="69.00" y="449.38" width="118.40" height="6.00" fill="#4171BC"/>
<rect x="187.40" y="449.38" width="9.10" height="6.00" fill="#CE4840"/>
<rect x="196.50" y="449.38" width="1.70" height="6.00" fill="#8EBB52"/>
<rect x="198.20" y="449.38" width="10.10" height="6.00" fill="#7C5BA4"/>
<rect x="208.30" y="449.38" width="10.80" height="6.00" fill="#3EA9C6"/>
<rect x="219.10" y="449.38" width="4.90" height="6.00" fill="#F3913A"/>
<rect x="69.00" y="459.14" width="95.60" height="6.00" fill="#4171BC"/>
<rect x="164.60" y="459.14" width="26.30" height="6.00" fill="#CE4840"/>
<rect x="190.90" y="459.14" width="4.90" height="6.00" fill="#8EBB52"/>
<rect x="195.80" y="459.14" width="8.60" height="6.00" fill="#7C5BA4"/>
<rect x="204.40" y="459.14" width="13.00" height="6.00" fill="#3EA9C6"/>
<rect x="217.40" y="459.14" width="6.60" height="6.00" fill="#F3913A"/>
<rect x="69.00" y="468.90" width="75.20" height="6.00" fill="#4171BC"/>
<rect x="144.20" y="468.90" width="56.50" height="6.00" fill="#CE4840"/>
<rect x="200.70" y="468.90" width="6.10" height="6.00" fill="#8EBB52"/>
<rect x="206.80" y="468.90" width="6.90" height="6.00" fill="#7C5BA4"/>
<rect x="213.70" y="468.90" width="6.20" height="6.00" fill="#3EA9C6"/>
<rect x="219.90" y="468.90" width="4.10" height="6.00" fill="#F3913A"/>
<rect x="240.90" y="283.30" width="125.30" height="6.40" fill="#4171BC"/>
<rect x="366.20" y="283.30" width="14.00" height="6.40" fill="#CE4840"/>
<rect x="380.20" y="283.30" width="6.60" height="6.40" fill="#8EBB52"/>
<rect x="386.80" y="283.30" width="5.70" height="6.40" fill="#7C5BA4"/>
<rect x="392.50" y="283.30" width="1.00" height="6.40" fill="#3EA9C6"/>
<rect x="393.50" y="283.30" width="1.70" height="6.40" fill="#F3913A"/>
<rect x="240.90" y="293.70" width="123.50" height="6.40" fill="#4171BC"/>
<rect x="364.40" y="293.70" width="18.40" height="6.40" fill="#CE4840"/>
<rect x="382.80" y="293.70" width="4.00" height="6.40" fill="#8EBB52"/>
<rect x="386.80" y="293.70" width="3.40" height="6.40" fill="#7C5BA4"/>
<rect x="390.20" y="293.70" width="3.10" height="6.40" fill="#3EA9C6"/>
<rect x="393.30" y="293.70" width="1.90" height="6.40" fill="#F3913A"/>
<rect x="240.90" y="303.30" width="65.70" height="6.40" fill="#4171BC"/>
<rect x="306.60" y="303.30" width="60.40" height="6.40" fill="#CE4840"/>
<rect x="367.00" y="303.30" width="17.10" height="6.40" fill="#8EBB52"/>
<rect x="384.10" y="303.30" width="4.50" height="6.40" fill="#7C5BA4"/>
<rect x="388.60" y="303.30" width="3.40" height="6.40" fill="#3EA9C6"/>
<rect x="392.00" y="303.30" width="3.20" height="6.40" fill="#F3913A"/>
<rect x="240.90" y="313.10" width="121.40" height="6.40" fill="#4171BC"/>
<rect x="362.30" y="313.10" width="12.10" height="6.40" fill="#CE4840"/>
<rect x="374.40" y="313.10" width="2.60" height="6.40" fill="#8EBB52"/>
<rect x="377.00" y="313.10" width="7.10" height="6.40" fill="#7C5BA4"/>
<rect x="384.10" y="313.10" width="7.40" height="6.40" fill="#3EA9C6"/>
<rect x="391.50" y="313.10" width="3.70" height="6.40" fill="#F3913A"/>
<rect x="240.90" y="322.90" width="97.20" height="6.40" fill="#4171BC"/>
<rect x="338.10" y="322.90" width="23.70" height="6.40" fill="#CE4840"/>
<rect x="361.80" y="322.90" width="3.10" height="6.40" fill="#8EBB52"/>
<rect x="364.90" y="322.90" width="13.20" height="6.40" fill="#7C5BA4"/>
<rect x="378.10" y="322.90" width="12.10" height="6.40" fill="#3EA9C6"/>
<rect x="390.20" y="322.90" width="5.00" height="6.40" fill="#F3913A"/>
<rect x="240.90" y="332.60" width="45.00" height="6.40" fill="#4171BC"/>
<rect x="285.90" y="332.60" width="69.30" height="6.40" fill="#CE4840"/>
<rect x="355.20" y="332.60" width="20.50" height="6.40" fill="#8EBB52"/>
<rect x="375.70" y="332.60" width="6.30" height="6.40" fill="#7C5BA4"/>
<rect x="382.00" y="332.60" width="7.40" height="6.40" fill="#3EA9C6"/>
<rect x="389.40" y="332.60" width="5.80" height="6.40" fill="#F3913A"/>
<rect x="240.90" y="352.40" width="128.00" height="6.30" fill="#4171BC"/>
<rect x="368.90" y="352.40" width="13.50" height="6.30" fill="#8EBB52"/>
<rect x="382.40" y="352.40" width="8.60" height="6.30" fill="#7C5BA4"/>
<rect x="391.00" y="352.40" width="1.00" height="6.30" fill="#3EA9C6"/>
<rect x="392.00" y="352.40" width="3.00" height="6.30" fill="#F3913A"/>
<rect x="240.90" y="362.22" width="128.80" height="6.30" fill="#4171BC"/>
<rect x="369.70" y="362.22" width="1.20" height="6.30" fill="#CE4840"/>
<rect x="370.90" y="362.22" width="9.80" height="6.30" fill="#8EBB52"/>
<rect x="380.70" y="362.22" width="5.40" height="6.30" fill="#7C5BA4"/>
<rect x="386.10" y="362.22" width="5.70" height="6.30" fill="#3EA9C6"/>
<rect x="391.80" y="362.22" width="3.20" height="6.30" fill="#F3913A"/>
<rect x="240.90" y="372.04" width="123.30" height="6.30" fill="#4171BC"/>
<rect x="364.20" y="372.04" width="1.30" height="6.30" fill="#CE4840"/>
<rect x="365.50" y="372.04" width="13.50" height="6.30" fill="#8EBB52"/>
<rect x="379.00" y="372.04" width="6.10" height="6.30" fill="#7C5BA4"/>
<rect x="385.10" y="372.04" width="8.40" height="6.30" fill="#3EA9C6"/>
<rect x="393.50" y="372.04" width="1.50" height="6.30" fill="#F3913A"/>
<rect x="240.90" y="381.86" width="107.40" height="6.30" fill="#4171BC"/>
<rect x="348.30" y="381.86" width="14.50" height="6.30" fill="#CE4840"/>
<rect x="362.80" y="381.86" width="3.90" height="6.30" fill="#8EBB52"/>
<rect x="366.70" y="381.86" width="12.80" height="6.30" fill="#7C5BA4"/>
<rect x="379.50" y="381.86" width="10.50" height="6.30" fill="#3EA9C6"/>
<rect x="390.00" y="381.86" width="5.00" height="6.30" fill="#F3913A"/>
<rect x="240.90" y="391.68" width="100.00" height="6.30" fill="#4171BC"/>
<rect x="340.90" y="391.68" width="20.20" height="6.30" fill="#CE4840"/>
<rect x="361.10" y="391.68" width="2.40" height="6.30" fill="#8EBB52"/>
<rect x="363.50" y="391.68" width="17.70" height="6.30" fill="#7C5BA4"/>
<rect x="381.20" y="391.68" width="8.80" height="6.30" fill="#3EA9C6"/>
<rect x="390.00" y="391.68" width="5.00" height="6.30" fill="#F3913A"/>
<rect x="240.90" y="401.50" width="104.20" height="6.30" fill="#4171BC"/>
<rect x="345.10" y="401.50" width="9.30" height="6.30" fill="#8EBB52"/>
<rect x="354.40" y="401.50" width="22.60" height="6.30" fill="#7C5BA4"/>
<rect x="377.00" y="401.50" width="9.10" height="6.30" fill="#3EA9C6"/>
<rect x="386.10" y="401.50" width="8.90" height="6.30" fill="#F3913A"/>
<rect x="240.90" y="421.00" width="137.80" height="6.60" fill="#4171BC"/>
<rect x="378.70" y="421.00" width="4.00" height="6.60" fill="#8EBB52"/>
<rect x="382.70" y="421.00" width="6.60" height="6.60" fill="#7C5BA4"/>
<rect x="389.30" y="421.00" width="3.20" height="6.60" fill="#3EA9C6"/>
<rect x="392.50" y="421.00" width="2.50" height="6.60" fill="#F3913A"/>
<rect x="240.90" y="430.86" width="133.70" height="6.60" fill="#4171BC"/>
<rect x="374.60" y="430.86" width="3.20" height="6.60" fill="#CE4840"/>
<rect x="377.80" y="430.86" width="2.40" height="6.60" fill="#8EBB52"/>
<rect x="380.20" y="430.86" width="5.90" height="6.60" fill="#7C5BA4"/>
<rect x="386.10" y="430.86" width="6.40" height="6.60" fill="#3EA9C6"/>
<rect x="392.50" y="430.86" width="2.50" height="6.60" fill="#F3913A"/>
<rect x="240.90" y="440.72" width="104.70" height="6.60" fill="#4171BC"/>
<rect x="345.60" y="440.72" width="13.00" height="6.60" fill="#CE4840"/>
<rect x="358.60" y="440.72" width="8.60" height="6.60" fill="#8EBB52"/>
<rect x="367.20" y="440.72" width="8.10" height="6.60" fill="#7C5BA4"/>
<rect x="375.30" y="440.72" width="17.70" height="6.60" fill="#3EA9C6"/>
<rect x="393.00" y="440.72" width="2.00" height="6.60" fill="#F3913A"/>
<rect x="240.90" y="450.58" width="117.00" height="6.60" fill="#4171BC"/>
<rect x="357.90" y="450.58" width="10.00" height="6.60" fill="#CE4840"/>
<rect x="367.90" y="450.58" width="3.00" height="6.60" fill="#8EBB52"/>
<rect x="370.90" y="450.58" width="6.60" height="6.60" fill="#7C5BA4"/>
<rect x="377.50" y="450.58" width="13.00" height="6.60" fill="#3EA9C6"/>
<rect x="390.50" y="450.58" width="4.50" height="6.60" fill="#F3913A"/>
<rect x="240.90" y="460.44" width="99.80" height="6.60" fill="#4171BC"/>
<rect x="340.70" y="460.44" width="15.40" height="6.60" fill="#CE4840"/>
<rect x="356.10" y="460.44" width="2.00" height="6.60" fill="#8EBB52"/>
<rect x="358.10" y="460.44" width="12.30" height="6.60" fill="#7C5BA4"/>
<rect x="370.40" y="460.44" width="20.10" height="6.60" fill="#3EA9C6"/>
<rect x="390.50" y="460.44" width="4.50" height="6.60" fill="#F3913A"/>
<rect x="240.90" y="470.30" width="104.70" height="6.60" fill="#4171BC"/>
<rect x="345.60" y="470.30" width="5.60" height="6.60" fill="#CE4840"/>
<rect x="351.20" y="470.30" width="10.30" height="6.60" fill="#8EBB52"/>
<rect x="361.50" y="470.30" width="7.70" height="6.60" fill="#7C5BA4"/>
<rect x="369.20" y="470.30" width="20.80" height="6.60" fill="#3EA9C6"/>
<rect x="390.00" y="470.30" width="5.00" height="6.60" fill="#F3913A"/>
<line x1="68.60" y1="282.10" x2="68.60" y2="342.00" stroke="#1a1f33" stroke-width="1.1"/>
<line x1="68.60" y1="291.85" x2="71.00" y2="291.85" stroke="#1a1f33" stroke-width="0.9"/>
<line x1="68.60" y1="301.60" x2="71.00" y2="301.60" stroke="#1a1f33" stroke-width="0.9"/>
<line x1="68.60" y1="311.35" x2="71.00" y2="311.35" stroke="#1a1f33" stroke-width="0.9"/>
<line x1="68.60" y1="321.10" x2="71.00" y2="321.10" stroke="#1a1f33" stroke-width="0.9"/>
<line x1="68.60" y1="330.85" x2="71.00" y2="330.85" stroke="#1a1f33" stroke-width="0.9"/>
<line x1="68.60" y1="340.60" x2="71.00" y2="340.60" stroke="#1a1f33" stroke-width="0.9"/>
<line x1="68.60" y1="342.00" x2="68.60" y2="409.00" stroke="#1a1f33" stroke-width="1.1"/>
<line x1="68.60" y1="349.90" x2="71.00" y2="349.90" stroke="#1a1f33" stroke-width="0.9"/>
<line x1="68.60" y1="359.70" x2="71.00" y2="359.70" stroke="#1a1f33" stroke-width="0.9"/>
<line x1="68.60" y1="369.50" x2="71.00" y2="369.50" stroke="#1a1f33" stroke-width="0.9"/>
<line x1="68.60" y1="379.30" x2="71.00" y2="379.30" stroke="#1a1f33" stroke-width="0.9"/>
<line x1="68.60" y1="389.10" x2="71.00" y2="389.10" stroke="#1a1f33" stroke-width="0.9"/>
<line x1="68.60" y1="398.90" x2="71.00" y2="398.90" stroke="#1a1f33" stroke-width="0.9"/>
<line x1="68.60" y1="408.70" x2="71.00" y2="408.70" stroke="#1a1f33" stroke-width="0.9"/>
<line x1="68.60" y1="409.00" x2="68.60" y2="477.50" stroke="#1a1f33" stroke-width="1.1"/>
<line x1="68.60" y1="418.60" x2="71.00" y2="418.60" stroke="#1a1f33" stroke-width="0.9"/>
<line x1="68.60" y1="428.35" x2="71.00" y2="428.35" stroke="#1a1f33" stroke-width="0.9"/>
<line x1="68.60" y1="438.10" x2="71.00" y2="438.10" stroke="#1a1f33" stroke-width="0.9"/>
<line x1="68.60" y1="447.85" x2="71.00" y2="447.85" stroke="#1a1f33" stroke-width="0.9"/>
<line x1="68.60" y1="457.60" x2="71.00" y2="457.60" stroke="#1a1f33" stroke-width="0.9"/>
<line x1="68.60" y1="467.35" x2="71.00" y2="467.35" stroke="#1a1f33" stroke-width="0.9"/>
<line x1="68.60" y1="477.10" x2="71.00" y2="477.10" stroke="#1a1f33" stroke-width="0.9"/>
<line x1="240.40" y1="282.10" x2="240.40" y2="342.00" stroke="#1a1f33" stroke-width="1.1"/>
<line x1="240.40" y1="291.85" x2="242.80" y2="291.85" stroke="#1a1f33" stroke-width="0.9"/>
<line x1="240.40" y1="301.60" x2="242.80" y2="301.60" stroke="#1a1f33" stroke-width="0.9"/>
<line x1="240.40" y1="311.35" x2="242.80" y2="311.35" stroke="#1a1f33" stroke-width="0.9"/>
<line x1="240.40" y1="321.10" x2="242.80" y2="321.10" stroke="#1a1f33" stroke-width="0.9"/>
<line x1="240.40" y1="330.85" x2="242.80" y2="330.85" stroke="#1a1f33" stroke-width="0.9"/>
<line x1="240.40" y1="340.60" x2="242.80" y2="340.60" stroke="#1a1f33" stroke-width="0.9"/>
<line x1="240.40" y1="342.00" x2="240.40" y2="409.00" stroke="#1a1f33" stroke-width="1.1"/>
<line x1="240.40" y1="349.90" x2="242.80" y2="349.90" stroke="#1a1f33" stroke-width="0.9"/>
<line x1="240.40" y1="359.70" x2="242.80" y2="359.70" stroke="#1a1f33" stroke-width="0.9"/>
<line x1="240.40" y1="369.50" x2="242.80" y2="369.50" stroke="#1a1f33" stroke-width="0.9"/>
<line x1="240.40" y1="379.30" x2="242.80" y2="379.30" stroke="#1a1f33" stroke-width="0.9"/>
<line x1="240.40" y1="389.10" x2="242.80" y2="389.10" stroke="#1a1f33" stroke-width="0.9"/>
<line x1="240.40" y1="398.90" x2="242.80" y2="398.90" stroke="#1a1f33" stroke-width="0.9"/>
<line x1="240.40" y1="408.70" x2="242.80" y2="408.70" stroke="#1a1f33" stroke-width="0.9"/>
<line x1="240.40" y1="409.00" x2="240.40" y2="477.50" stroke="#1a1f33" stroke-width="1.1"/>
<line x1="240.40" y1="418.60" x2="242.80" y2="418.60" stroke="#1a1f33" stroke-width="0.9"/>
<line x1="240.40" y1="428.35" x2="242.80" y2="428.35" stroke="#1a1f33" stroke-width="0.9"/>
<line x1="240.40" y1="438.10" x2="242.80" y2="438.10" stroke="#1a1f33" stroke-width="0.9"/>
<line x1="240.40" y1="447.85" x2="242.80" y2="447.85" stroke="#1a1f33" stroke-width="0.9"/>
<line x1="240.40" y1="457.60" x2="242.80" y2="457.60" stroke="#1a1f33" stroke-width="0.9"/>
<line x1="240.40" y1="467.35" x2="242.80" y2="467.35" stroke="#1a1f33" stroke-width="0.9"/>
<line x1="240.40" y1="477.10" x2="242.80" y2="477.10" stroke="#1a1f33" stroke-width="0.9"/>
<line x1="68.60" y1="282.10" x2="223.60" y2="282.10" stroke="#111" stroke-width="0.9"/>
<line x1="68.60" y1="282.10" x2="68.60" y2="283.90" stroke="#111" stroke-width="0.8"/>
<line x1="99.60" y1="282.10" x2="99.60" y2="283.90" stroke="#111" stroke-width="0.8"/>
<line x1="130.60" y1="282.10" x2="130.60" y2="283.90" stroke="#111" stroke-width="0.8"/>
<line x1="161.60" y1="282.10" x2="161.60" y2="283.90" stroke="#111" stroke-width="0.8"/>
<line x1="192.60" y1="282.10" x2="192.60" y2="283.90" stroke="#111" stroke-width="0.8"/>
<line x1="223.60" y1="282.10" x2="223.60" y2="283.90" stroke="#111" stroke-width="0.8"/>
<text x="68.60" y="280.80" font-family="'Liberation Sans', sans-serif" font-size="6.4" fill="#111" text-anchor="middle" font-weight="bold" font-style="normal">0%</text>
<text x="99.60" y="280.80" font-family="'Liberation Sans', sans-serif" font-size="6.4" fill="#111" text-anchor="middle" font-weight="bold" font-style="normal">20%</text>
<text x="130.60" y="280.80" font-family="'Liberation Sans', sans-serif" font-size="6.4" fill="#111" text-anchor="middle" font-weight="bold" font-style="normal">40%</text>
<text x="161.60" y="280.80" font-family="'Liberation Sans', sans-serif" font-size="6.4" fill="#111" text-anchor="middle" font-weight="bold" font-style="normal">60%</text>
<text x="192.60" y="280.80" font-family="'Liberation Sans', sans-serif" font-size="6.4" fill="#111" text-anchor="middle" font-weight="bold" font-style="normal">80%</text>
<text x="223.60" y="280.80" font-family="'Liberation Sans', sans-serif" font-size="6.4" fill="#111" text-anchor="middle" font-weight="bold" font-style="normal">100%</text>
<line x1="240.40" y1="282.00" x2="394.60" y2="282.00" stroke="#999" stroke-width="0.9"/>
<line x1="240.40" y1="282.00" x2="240.40" y2="283.80" stroke="#999" stroke-width="0.8"/>
<line x1="271.24" y1="282.00" x2="271.24" y2="283.80" stroke="#999" stroke-width="0.8"/>
<line x1="302.08" y1="282.00" x2="302.08" y2="283.80" stroke="#999" stroke-width="0.8"/>
<line x1="332.92" y1="282.00" x2="332.92" y2="283.80" stroke="#999" stroke-width="0.8"/>
<line x1="363.76" y1="282.00" x2="363.76" y2="283.80" stroke="#999" stroke-width="0.8"/>
<line x1="394.60" y1="282.00" x2="394.60" y2="283.80" stroke="#999" stroke-width="0.8"/>
<text x="240.40" y="280.70" font-family="'Liberation Sans', sans-serif" font-size="6.4" fill="#111" text-anchor="middle" font-weight="bold" font-style="normal">0%</text>
<text x="271.24" y="280.70" font-family="'Liberation Sans', sans-serif" font-size="6.4" fill="#111" text-anchor="middle" font-weight="bold" font-style="normal">20%</text>
<text x="302.08" y="280.70" font-family="'Liberation Sans', sans-serif" font-size="6.4" fill="#111" text-anchor="middle" font-weight="bold" font-style="normal">40%</text>
<text x="332.92" y="280.70" font-family="'Liberation Sans', sans-serif" font-size="6.4" fill="#111" text-anchor="middle" font-weight="bold" font-style="normal">60%</text>
<text x="363.76" y="280.70" font-family="'Liberation Sans', sans-serif" font-size="6.4" fill="#111" text-anchor="middle" font-weight="bold" font-style="normal">80%</text>
<text x="394.60" y="280.70" font-family="'Liberation Sans', sans-serif" font-size="6.4" fill="#111" text-anchor="middle" font-weight="bold" font-style="normal">100%</text>
<text x="55.60" y="288.81" font-family="'Liberation Serif', serif" font-size="7.0" fill="#000" text-anchor="end" font-weight="normal" font-style="italic" stroke="#000" stroke-width="0.1">Ph. edulis</text>
<text x="55.60" y="299.31" font-family="'Liberation Serif', serif" font-size="7.0" fill="#000" text-anchor="end" font-weight="normal" font-style="italic" stroke="#000" stroke-width="0.1">Z. mays</text>
<text x="55.60" y="309.01" font-family="'Liberation Serif', serif" font-size="7.0" fill="#000" text-anchor="end" font-weight="normal" font-style="italic" stroke="#000" stroke-width="0.1">O. sativa</text>
<text x="55.60" y="318.81" font-family="'Liberation Serif', serif" font-size="7.0" fill="#000" text-anchor="end" font-weight="normal" font-style="italic" stroke="#000" stroke-width="0.1">S. bicolor</text>
<text x="55.60" y="328.61" font-family="'Liberation Serif', serif" font-size="7.0" fill="#000" text-anchor="end" font-weight="normal" font-style="italic" stroke="#000" stroke-width="0.1">B. distachyon</text>
<text x="55.60" y="338.41" font-family="'Liberation Serif', serif" font-size="7.0" fill="#000" text-anchor="end" font-weight="normal" font-style="italic" stroke="#000" stroke-width="0.1">A. thaliana</text>
<text x="55.60" y="357.71" font-family="'Liberation Serif', serif" font-size="7.0" fill="#000" text-anchor="end" font-weight="normal" font-style="italic" stroke="#000" stroke-width="0.1">Ph. edulis</text>
<text x="55.60" y="367.53" font-family="'Liberation Serif', serif" font-size="7.0" fill="#000" text-anchor="end" font-weight="normal" font-style="italic" stroke="#000" stroke-width="0.1">Z. mays</text>
<text x="55.60" y="377.35" font-family="'Liberation Serif', serif" font-size="7.0" fill="#000" text-anchor="end" font-weight="normal" font-style="italic" stroke="#000" stroke-width="0.1">O. sativa</text>
<text x="55.60" y="387.17" font-family="'Liberation Serif', serif" font-size="7.0" fill="#000" text-anchor="end" font-weight="normal" font-style="italic" stroke="#000" stroke-width="0.1">S. bicolor</text>
<text x="55.60" y="396.99" font-family="'Liberation Serif', serif" font-size="7.0" fill="#000" text-anchor="end" font-weight="normal" font-style="italic" stroke="#000" stroke-width="0.1">B. distachyon</text>
<text x="55.60" y="406.81" font-family="'Liberation Serif', serif" font-size="7.0" fill="#000" text-anchor="end" font-weight="normal" font-style="italic" stroke="#000" stroke-width="0.1">A. thaliana</text>
<text x="55.60" y="425.71" font-family="'Liberation Serif', serif" font-size="7.0" fill="#000" text-anchor="end" font-weight="normal" font-style="italic" stroke="#000" stroke-width="0.1">Ph. edulis</text>
<text x="55.60" y="435.47" font-family="'Liberation Serif', serif" font-size="7.0" fill="#000" text-anchor="end" font-weight="normal" font-style="italic" stroke="#000" stroke-width="0.1">Z. mays</text>
<text x="55.60" y="445.23" font-family="'Liberation Serif', serif" font-size="7.0" fill="#000" text-anchor="end" font-weight="normal" font-style="italic" stroke="#000" stroke-width="0.1">O. sativa</text>
<text x="55.60" y="454.99" font-family="'Liberation Serif', serif" font-size="7.0" fill="#000" text-anchor="end" font-weight="normal" font-style="italic" stroke="#000" stroke-width="0.1">S. bicolor</text>
<text x="55.60" y="464.75" font-family="'Liberation Serif', serif" font-size="7.0" fill="#000" text-anchor="end" font-weight="normal" font-style="italic" stroke="#000" stroke-width="0.1">B. distachyon</text>
<text x="55.60" y="474.51" font-family="'Liberation Serif', serif" font-size="7.0" fill="#000" text-anchor="end" font-weight="normal" font-style="italic" stroke="#000" stroke-width="0.1">A. thaliana</text>
<text x="65.40" y="310.20" font-family="'Liberation Serif', serif" font-size="7.2" fill="#111" text-anchor="middle" font-weight="bold" font-style="normal" transform="rotate(-90 65.40 310.20)">P2</text>
<text x="65.40" y="378.60" font-family="'Liberation Serif', serif" font-size="7.2" fill="#111" text-anchor="middle" font-weight="bold" font-style="normal" transform="rotate(-90 65.40 378.60)">P4</text>
<text x="65.40" y="446.20" font-family="'Liberation Serif', serif" font-size="7.2" fill="#111" text-anchor="middle" font-weight="bold" font-style="normal" transform="rotate(-90 65.40 446.20)">P6</text>
<text x="236.80" y="310.00" font-family="'Liberation Serif', serif" font-size="7.2" fill="#111" text-anchor="middle" font-weight="bold" font-style="normal" transform="rotate(-90 236.80 310.00)">P3</text>
<text x="236.80" y="379.00" font-family="'Liberation Serif', serif" font-size="7.2" fill="#111" text-anchor="middle" font-weight="bold" font-style="normal" transform="rotate(-90 236.80 379.00)">P5</text>
<text x="237.20" y="450.00" font-family="'Liberation Serif', serif" font-size="7.0" fill="#111" text-anchor="middle" font-weight="bold" font-style="normal" transform="rotate(-90 237.20 450.00)">Compound</text>
<rect x="106.40" y="482.90" width="4.00" height="4.30" fill="#4171BC"/>
<text x="112.30" y="488.80" font-family="'Liberation Serif', serif" font-size="8.6" fill="#111" text-anchor="start" font-weight="normal" font-style="normal">Intergenic</text>
<rect x="155.90" y="482.90" width="4.00" height="4.30" fill="#CE4840"/>
<text x="161.80" y="488.80" font-family="'Liberation Serif', serif" font-size="8.6" fill="#111" text-anchor="start" font-weight="normal" font-style="normal">Exon</text>
<rect x="189.30" y="482.90" width="4.00" height="4.30" fill="#8EBB52"/>
<text x="194.60" y="488.80" font-family="'Liberation Serif', serif" font-size="8.6" fill="#111" text-anchor="start" font-weight="normal" font-style="normal">5' UTR</text>
<rect x="229.00" y="482.90" width="4.00" height="4.30" fill="#7C5BA4"/>
<text x="235.20" y="488.80" font-family="'Liberation Serif', serif" font-size="8.6" fill="#111" text-anchor="start" font-weight="normal" font-style="normal">Intron</text>
<rect x="265.60" y="482.90" width="4.00" height="4.30" fill="#3EA9C6"/>
<text x="270.50" y="488.80" font-family="'Liberation Serif', serif" font-size="8.6" fill="#111" text-anchor="start" font-weight="normal" font-style="normal">Multi-mapped</text>
<rect x="329.10" y="482.90" width="4.00" height="4.30" fill="#F3913A"/>
<text x="335.00" y="488.80" font-family="'Liberation Serif', serif" font-size="8.6" fill="#111" text-anchor="start" font-weight="normal" font-style="normal">3' UTR</text>
</svg></body></html>
